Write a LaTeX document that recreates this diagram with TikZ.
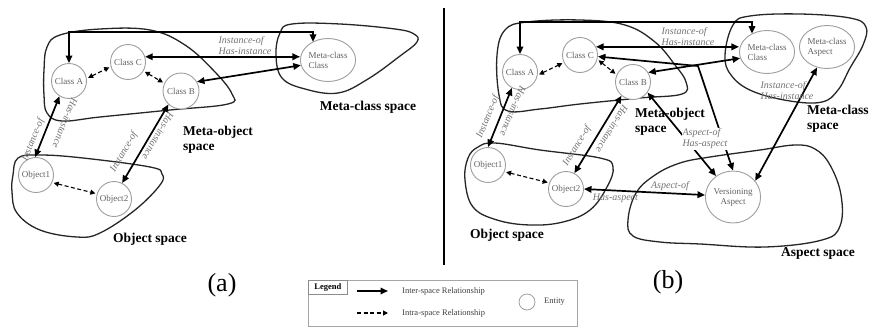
\documentclass[tikz,border=0pt]{standalone}
\usepackage{fontspec}
\setmainfont{Liberation Serif}
\usetikzlibrary{arrows.meta,calc,shapes.geometric}

\begin{document}
\begin{tikzpicture}[x=1pt,y=-1pt,
  entity/.style={circle, draw=black!38, line width=0.9pt, fill=white, minimum size=35pt,
    inner sep=0pt, text=black!62, font=\fontsize{9}{10}\selectfont, align=center},
  metaentity/.style={entity, ellipse, minimum width=51pt, minimum height=43pt, align=left},
  space/.style={draw=black!85, line width=1.3pt},
  inter/.style={line width=1.7pt, {Triangle[length=7.5pt,width=6.5pt]}-{Triangle[length=7.5pt,width=6.5pt]}},
  interone/.style={line width=1.7pt, -{Triangle[length=7.5pt,width=6.5pt]}},
  intra/.style={line width=1.1pt, dash pattern=on 4pt off 2.5pt,
    {Triangle[length=5pt,width=5pt]}-{Triangle[length=5pt,width=5pt]}, shorten <=1.5pt, shorten >=1.5pt},
  intraone/.style={line width=1.1pt, dash pattern=on 4pt off 2.5pt, -{Triangle[length=5pt,width=5pt]}},
  rel/.style={font=\itshape\fontsize{10}{11}\selectfont, text=black!55, inner sep=0.5pt, align=left},
  spacelabel/.style={font=\bfseries\fontsize{13.5}{15}\selectfont, align=left, inner sep=0pt},
  panel/.style={font=\fontsize{26}{26}\selectfont, inner sep=0pt},
  legendtext/.style={font=\fontsize{8.5}{9}\selectfont, text=black!75, inner sep=0pt, anchor=west},
]
\useasboundingbox (0,0) rectangle (869,327);

% ---------- spaces (a) ----------
\draw[space] plot[smooth cycle, tension=0.65] coordinates {
  (44,70) (47,47) (60,35) (100,29) (150,30) (185,45) (215,72) (232,94) (228,104)
  (170,110) (100,117) (62,121) (47,113) (44,95)};
\draw[space] plot[smooth cycle, tension=0.65] coordinates {
  (276,55) (280,33) (292,24) (340,24) (395,29) (414,34) (417,42) (400,56)
  (368,79) (338,93) (305,89) (282,78)};
\draw[space] plot[smooth cycle, tension=0.65] coordinates {
  (13,175) (18,158) (40,155) (83,158) (150,167) (162,174) (160,185) (135,210)
  (100,233) (77,237) (40,230) (17,213) (12,192)};

% ---------- spaces (b) ----------
\draw[space] plot[smooth cycle, tension=0.65] coordinates {
  (497,55) (505,30) (527,22) (580,20) (625,25) (655,42) (675,65) (686,82) (682,94)
  (640,98) (580,104) (540,109) (508,111) (499,95)};
\draw[space] plot[smooth cycle, tension=0.65] coordinates {
  (725,55) (733,25) (750,16) (800,14) (850,18) (866,27) (863,45) (850,68)
  (838,90) (822,102) (790,101) (752,91) (731,75)};
\draw[space] plot[smooth cycle, tension=0.65] coordinates {
  (628,220) (636,193) (655,175) (680,163) (710,157) (760,150) (795,145) (815,149)
  (830,165) (841,195) (840,226) (822,240) (765,247) (700,244) (660,242) (633,236)};
\draw[space] plot[smooth cycle, tension=0.65] coordinates {
  (465,180) (468,158) (478,147) (495,143) (540,150) (600,158) (613,167) (607,187)
  (590,210) (563,222) (530,225) (497,220) (473,207)};

% panel divider
\draw[line width=2pt] (444,8) -- (444,265);

% ---------- entities (a) ----------
\node[entity] (cA) at (69,81) {Class A};
\node[entity] (cC) at (128,62) {Class C};
\node[entity, minimum size=36pt] (cB) at (181,91) {Class B};
\node[metaentity] (mc) at (328,60) {Meta-class\\Class};
\node[entity] (o1) at (36,175) {Object1};
\node[entity] (o2) at (114,199) {Object2};

% ---------- entities (b) ----------
\node[entity] (bA) at (520,72) {Class A};
\node[entity] (bC) at (580,55) {Class C};
\node[entity] (bB) at (633,82) {Class B};
\node[metaentity] (bmc) at (767,52) {Meta-class\\Class};
\node[metaentity] (bma) at (827,47) {Meta-class\\Aspect};
\node[entity] (bo1) at (488,165) {Object1};
\node[entity] (bo2) at (566,189) {Object2};
\node[metaentity, align=center, minimum width=54pt, minimum height=52pt] (bva) at (733,197) {Versioning\\Aspect};

% ---------- relationships (a) ----------
\coordinate (ta1) at (69,32);
\coordinate (ta2) at (313,32);
\draw[inter] (cA.north) -- (ta1) -- (ta2) -- (ta2 |- mc.131);
\draw[inter] (cC.17) -- (cC.17 -| mc.west);
\draw[inter] (cB.30) -- (mc.191);
\node[rel] (la1) at (245,46) {Instance-of\\Has-instance};
\draw[intra] (cA.8) -- (cC.195);
\draw[intra] (cC.330) -- (cB.155);
\draw[intra] (o1.335) -- (o2.163);
\draw[inter] (cA.238) -- (o1.93);
\node[rel, rotate=68] (la2) at (33,140) {Instance-of};
\node[rel, rotate=-112] (la3) at (65,123) {Has-instance};
\draw[inter] (cB.227) -- (o2.63);
\node[rel, rotate=60] (la4) at (124,152) {Instance-of};
\node[rel, rotate=-120] (la5) at (158,136) {Has-instance};

% ---------- relationships (b) ----------
\coordinate (tb1) at (520,22);
\coordinate (tb2) at (752,22);
\draw[inter] (bA.north) -- (tb1) -- (tb2) -- (tb2 |- bmc.130);
\draw[inter] (bC.27) -- (bC.27 -| bmc.west);
\draw[inter] (bB.32) -- (bmc.193);
\coordinate (bend) at (698,66);
\draw[inter] (bC.-5) -- (bend) -- (bva.north);
\draw[inter] (bB.324) -- (bva.129);
\draw[inter] (bma.244) -- (bva.36.5);
\draw[inter] (bo2.east) --
  node[rel, pos=0.71, above=1pt] (lb4) {Aspect-of}
  node[rel, pos=0.26, below=2pt] (lb5) {Has-aspect}
  (bva.176);
\draw[intra] (bA.-10) -- (bC.205);
\draw[intra] (bC.-14) -- (bB.156);
\draw[intra] (bo1.-22) -- (bo2.160);
\draw[inter] (bA.243) -- (bo1.north);
\node[rel, rotate=67.5] (lb6) at (488,117) {Instance-of};
\node[rel, rotate=-112.5] (lb7) at (513,111) {Has-instance};
\draw[inter] (bB.230) -- (bo2.62);
\node[rel, rotate=58.6] (lb8) at (577,146) {Instance-of};
\node[rel, rotate=-121.4] (lb9) at (612,129) {Has-instance};
\node[rel] (lb1) at (688,37) {Instance-of\\Has-instance};
\node[rel] (lb2) at (787,91) {Instance-of\\Has-instance};
\node[rel, fill=white, inner sep=1pt] (lb3) at (705,139) {Aspect-of\\Has-aspect};

% ---------- space names ----------
\node[spacelabel, anchor=west] (sa1) at (183,140) {Meta-object\\space};
\node[spacelabel] (sa2) at (368,107) {Meta-class space};
\node[spacelabel] (sa3) at (150,239) {Object space};
\node[spacelabel, anchor=west] (sb1) at (635,122) {Meta-object\\space};
\node[spacelabel, anchor=west] (sb2) at (807,119) {Meta-class\\space};
\node[spacelabel] (sb3) at (507,235) {Object space};
\node[spacelabel] (sb4) at (818,253) {Aspect space};

\node[panel] (pa) at (222,285) {(a)};
\node[panel] (pb) at (668,282) {(b)};

% ---------- legend ----------
\node[draw=black!35, line width=0.7pt, anchor=north west, minimum width=269pt,
  minimum height=46pt, inner sep=0pt] (legbox) at (308,280) {};
\node[draw=black!45, line width=0.6pt, anchor=north west, minimum width=39pt,
  minimum height=14pt, inner sep=0pt, font=\bfseries\fontsize{8.5}{9}\selectfont] (legtag) at (308,280) {Legend};
\coordinate (l1a) at (357,291);
\coordinate (l1b) at (388,291);
\coordinate (l2a) at (357,313);
\coordinate (l2b) at (388,313);
\draw[interone] (l1a) -- (l1b);
\draw[intraone] (l2a) -- (l2b);
\node[legendtext] (lt1) at (402,291) {Inter-space Relationship};
\node[legendtext] (lt2) at (402,313) {Intra-space Relationship};
\node[circle, draw=black!38, line width=0.8pt, minimum size=16pt, inner sep=0pt] (legcirc) at (527,302) {};
\node[legendtext] (lt3) at (544,302) {Entity};
\end{tikzpicture}
\end{document}
